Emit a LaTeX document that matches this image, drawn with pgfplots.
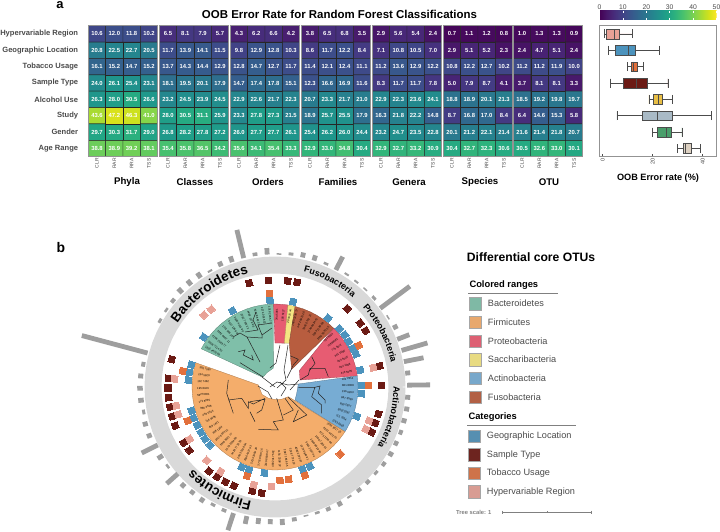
\documentclass[border=0pt]{standalone}
\usepackage{fontspec}
\setmainfont{Liberation Sans}
\usepackage{pgfplots}
\usepackage{pgfplotstable}
\pgfplotsset{compat=1.18}
\usepgfplotslibrary{polar,statistics}
\usetikzlibrary{decorations.text}
\pgfplotsset{/pgf/number format/assume math mode=true}

\definecolor{cGreen}{HTML}{7FBFA9}\definecolor{cOrange}{HTML}{F4AD6B}
\definecolor{cRed}{HTML}{E75C72}\definecolor{cYellow}{HTML}{F4E582}
\definecolor{cBlue}{HTML}{77ACD3}\definecolor{cBrown}{HTML}{B85D3F}
\definecolor{qBlue}{HTML}{4C93BD}\definecolor{qDark}{HTML}{6B1A14}
\definecolor{qOrange}{HTML}{E2703C}\definecolor{qPink}{HTML}{E8A196}
\definecolor{ringG}{HTML}{D9D9D9}\definecolor{barG}{HTML}{9E9E9E}
\definecolor{txtG}{HTML}{4A4A4A}
\definecolor{bYellow}{HTML}{E8BE45}\definecolor{bSlate}{HTML}{A9BAC6}
\definecolor{bGreen}{HTML}{4A9E6B}\definecolor{bBeige}{HTML}{DDD1C2}

% heat-map values: rows top to bottom, four columns each
\pgfplotstableread[row sep=\\]{z\\10.6\\12.0\\11.8\\10.2\\20.8\\22.5\\22.7\\20.5\\16.1\\15.2\\14.7\\15.2\\24.0\\26.1\\25.4\\23.1\\26.3\\28.0\\30.5\\26.6\\43.6\\47.2\\46.3\\41.0\\29.7\\30.3\\31.7\\29.0\\38.8\\38.9\\39.2\\38.1\\}\tPhyla
\pgfplotstableread[row sep=\\]{z\\6.5\\8.1\\7.9\\5.7\\11.7\\13.9\\14.1\\11.5\\13.7\\14.3\\14.4\\12.9\\18.1\\19.5\\20.1\\17.9\\23.2\\24.5\\23.9\\24.5\\28.0\\30.5\\31.1\\25.9\\26.8\\28.2\\27.8\\27.2\\35.4\\35.8\\36.5\\34.2\\}\tClasses
\pgfplotstableread[row sep=\\]{z\\4.3\\6.2\\6.6\\4.2\\9.8\\12.9\\12.8\\10.3\\12.8\\14.7\\12.7\\11.7\\14.7\\17.4\\17.8\\15.1\\22.9\\22.6\\21.7\\22.3\\23.3\\27.8\\27.3\\21.5\\26.0\\27.7\\27.7\\26.1\\35.6\\34.1\\35.4\\33.3\\}\tOrders
\pgfplotstableread[row sep=\\]{z\\3.8\\6.5\\6.8\\3.5\\8.6\\11.7\\12.2\\8.4\\11.4\\12.1\\12.4\\11.1\\12.3\\16.6\\16.9\\11.6\\20.7\\23.3\\21.7\\21.0\\18.9\\25.7\\25.5\\17.9\\25.4\\26.2\\26.0\\24.4\\32.9\\33.0\\34.8\\30.4\\}\tFamilies
\pgfplotstableread[row sep=\\]{z\\2.9\\5.6\\5.4\\2.4\\7.1\\10.8\\10.5\\7.0\\11.2\\13.6\\12.9\\12.2\\8.3\\11.7\\11.7\\7.8\\22.9\\22.3\\23.6\\24.1\\16.3\\21.8\\22.2\\14.8\\23.2\\24.7\\23.5\\22.8\\32.9\\32.7\\33.2\\30.9\\}\tGenera
\pgfplotstableread[row sep=\\]{z\\0.7\\1.1\\1.2\\0.8\\2.9\\5.1\\5.2\\2.3\\10.8\\12.2\\12.7\\10.2\\5.0\\7.9\\8.7\\4.1\\18.8\\18.9\\20.1\\21.3\\8.7\\16.8\\17.0\\8.4\\20.1\\21.2\\22.1\\21.4\\30.4\\32.7\\32.3\\30.6\\}\tSpecies
\pgfplotstableread[row sep=\\]{z\\1.0\\1.3\\1.3\\0.9\\2.4\\4.7\\5.1\\2.4\\11.2\\11.2\\11.9\\10.0\\3.7\\8.1\\8.1\\3.3\\18.5\\19.2\\19.8\\19.7\\6.4\\14.6\\15.3\\5.8\\21.6\\21.4\\21.8\\20.7\\30.5\\32.6\\33.0\\30.1\\}\tOTU

\pgfplotsset{
 heatax/.style={scale only axis,width=69.4bp,height=131bp,anchor=south west,
  xmin=-0.5,xmax=3.5,ymin=-0.5,ymax=7.5,y dir=reverse,axis on top,
  axis line style={draw=gray!85,line width=.9bp},
  xtick={0,1,2,3},xticklabels={CLR,RAR,RRA,TSS},
  xticklabel style={rotate=90,anchor=east,font=\fontsize{5}{5}\selectfont,text=txtG,inner sep=1.5bp},
  ytick=\empty,major tick length=0pt,colormap/viridis,point meta min=0,point meta max=50},
 box/.style 2 args={boxplot prepared={draw position=#1,#2}},
}
\newcommand{\heat}[3][]{%
 \begin{axis}[heatax,at={(#2bp,375.3bp)},#1]
  \addplot[matrix plot,mesh/cols=4,point meta=\thisrow{z},draw=black!85,line width=.45bp]
    table[x index=0,y index=0,x expr={mod(\coordindex,4)},y expr={floor((\coordindex+0.5)/4)}] {#3};
  \addplot[only marks,mark=none,point meta=\thisrow{z},
    nodes near coords={\pgfmathprintnumber[fixed,fixed zerofill,precision=1]{\pgfplotspointmeta}},
    nodes near coords style={anchor=center,text=white,inner sep=0pt,font=\bfseries\fontsize{5.9}{6}\selectfont}]
    table[x index=0,y index=0,x expr={mod(\coordindex,4)},y expr={floor((\coordindex+0.5)/4)}] {#3};
 \end{axis}}

% tangential orientation for marks read in picture pixels, tree centre at (275,387)
\pgfdeclareplotmark{radbar}{%
 \pgfmathsetmacro{\halfl}{\barlen/2}%
 \pgfpathrectangle{\pgfpoint{-\halfl bp}{-2.4bp}}{\pgfpoint{\barlen bp}{4.8bp}}\pgfusepathqfill}
\pgfplotsset{
 radial/.style={scatter,only marks,
  visualization depends on={value \thisrow{x}\as\vx},
  visualization depends on={value \thisrow{y}\as\vy},
  scatter/@pre marker code/.code={\pgfscope\pgfmathparse{atan2(387-\vy,\vx-275)}\pgftransformrotate{\pgfmathresult}},
  scatter/@post marker code/.code={\endpgfscope}},
 sq/.style={radial,mark=square*,mark size=3.1bp,draw=#1,fill=#1,line width=0pt},
}
\newcommand{\sw}[3]{\addplot[only marks,mark=square*,mark size=6.2bp,draw=gray!70,fill=#3,line width=.4bp] coordinates {(#1,#2)};}
\newcommand{\lab}[3]{\node[anchor=west,inner sep=0pt,text=txtG,font=\fontsize{9.2}{10}\selectfont] at (axis cs:#1,#2) {#3};}
\newcommand{\grp}[2]{\node[anchor=center,inner sep=0pt,font=\bfseries\fontsize{9.7}{10}\selectfont] at (axis cs:#1,182) {#2};}
\newcommand{\ringtext}[5]{\path[decorate,decoration={text along path,text align=center,
   text={|\bfseries\fontsize{#5}{#5}\selectfont|#1}}]
   ([shift={(#2:#4bp)}]axis cs:275,387) arc[start angle=#2,end angle=#3,radius=#4bp];}

\begin{document}
\begin{tikzpicture}[x=1bp,y=1bp]
\path[use as bounding box] (0,0) rectangle (720bp,532bp);

% ---------------- heat maps
\heat[ytick={0,1,2,3,4,5,6,7},
 yticklabels={Hypervariable Region,Geographic Location,Tobacco Usage,Sample Type,Alcohol Use,Study,Gender,Age Range},
 yticklabel style={font=\bfseries\fontsize{7.6}{8}\selectfont,text=txtG,xshift=-10bp,inner sep=0pt}]{88.3}{\tPhyla}
\heat{159.3}{\tClasses}
\heat{230.3}{\tOrders}
\heat{301.3}{\tFamilies}
\heat{372.3}{\tGenera}
\heat{443.3}{\tSpecies}
\heat{513.4}{\tOTU}

% ---------------- colour bar
\begin{axis}[hide axis,scale only axis,at={(599.5bp,512bp)},anchor=south west,width=117bp,height=9bp,
 xmin=0,xmax=1,ymin=0,ymax=1,colormap/viridis,colorbar horizontal,point meta min=0,point meta max=50,
 colorbar style={at={(0,0)},anchor=south west,width=117bp,height=9bp,scale only axis,
  xtick={0,10,20,30,40,50},xticklabel pos=upper,
  xticklabel style={font=\fontsize{6.8}{7}\selectfont,text=txtG,inner sep=1.5bp},
  tick style={white,line width=.5bp},major tick length=2bp,tick align=inside,axis line style={draw=none}}]
 \addplot[draw=none] coordinates {(0,0)};
\end{axis}

% ---------------- box plots
\begin{axis}[scale only axis,at={(599.3bp,375.3bp)},anchor=south west,width=117.4bp,height=131.7bp,
 xmin=-1.36,xmax=45.6,ymin=-0.55,ymax=7.5,y dir=reverse,
 axis line style={draw=gray!85,line width=.9bp},ytick=\empty,xtick={0,20,40},
 xtick pos=bottom,major tick length=2.5bp,tick style={black!70,line width=.5bp},
 xticklabel style={rotate=90,anchor=east,font=\fontsize{5.6}{6}\selectfont,text=txtG,inner sep=1.5bp},
 boxplot/draw direction=x,boxplot/box extend=0.6,boxplot/whisker extend=0.55,
 every axis plot/.append style={draw=black!70,line width=.6bp}]
 \addplot[fill=qPink,box={0}{lower whisker=0.8,lower quartile=1.5,median=4.8,upper quartile=6.7,upper whisker=12}] coordinates {};
 \addplot[fill=qBlue,box={1}{lower whisker=2.3,lower quartile=5.1,median=10.3,upper quartile=12.9,upper whisker=22.7}] coordinates {};
 \addplot[fill=qOrange,box={2}{lower whisker=9.9,lower quartile=11.3,median=12.3,upper quartile=13.9,upper whisker=16.3}] coordinates {};
 \addplot[fill=qDark,box={3}{lower whisker=3.2,lower quartile=8.1,median=13.5,upper quartile=18,upper whisker=26.1}] coordinates {};
 \addplot[fill=bYellow,box={4}{lower whisker=18.5,lower quartile=20.4,median=22.1,upper quartile=24,upper whisker=28}] coordinates {};
 \addplot[fill=bSlate,box={5}{lower whisker=5.7,lower quartile=15.9,median=22,upper quartile=28,upper whisker=43.6}] coordinates {};
 \addplot[fill=bGreen,box={6}{lower whisker=20,lower quartile=21.9,median=25.6,upper quartile=27.6,upper whisker=31.7}] coordinates {};
 \addplot[fill=bBeige,box={7}{lower whisker=30,lower quartile=32.4,median=32.9,upper quartile=35.6,upper whisker=39.2}] coordinates {};
\end{axis}

% ---------------- circular tree: ring, clade ranges, leaf names (angle in degrees, radius in px)
\begin{polaraxis}[hide axis,scale only axis,at={(275bp,145bp)},anchor=center,width=300bp,height=300bp,
 xmin=0,xmax=360,ymin=0,ymax=150,clip=false]
 \addplot[ringG,line width=17bp,line join=round] coordinates {(0,122)(5,122)(10,122)(15,122)(20,122)(25,122)(30,122)(35,122)(40,122)(45,122)(50,122)(55,122)(60,122)(65,122)(70,122)(75,122)(80,122)(85,122)(90,122)(95,122)(100,122)(105,122)(110,122)(115,122)(120,122)(125,122)(130,122)(135,122)(140,122)(145,122)(150,122)(155,122)(160,122)(165,122)(170,122)(175,122)(180,122)(185,122)(190,122)(195,122)(200,122)(205,122)(210,122)(215,122)(220,122)(225,122)(230,122)(235,122)(240,122)(245,122)(250,122)(255,122)(260,122)(265,122)(270,122)(275,122)(280,122)(285,122)(290,122)(295,122)(300,122)(305,122)(310,122)(315,122)(320,122)(325,122)(330,122)(335,122)(340,122)(345,122)(350,122)(355,122)(360,122)};
 % Bacteroidetes
 \addplot[fill=cGreen,draw=cGreen!70!black,line width=.3bp] coordinates {(91,83)(95,83)(100,83)(105,83)(110,83)(115,83)(120,83)(125,83)(130,83)(135,83)(140,83)(145,83)(150,83)(152.6,83)(141.7,15.7)(118,16.5)(95,19)(91,83)};
 % Proteobacteria (small)
 \addplot[fill=cRed,draw=cRed!70!black,line width=.3bp] coordinates {(81,83)(85,83)(91,83)(90,44)(77,45)(81,83)};
 % Saccharibacteria
 \addplot[fill=cYellow,draw=cYellow!70!black,line width=.3bp] coordinates {(76,83)(81,83)(78,45)(72,46)(76,83)};
 % Fusobacteria
 \addplot[fill=cBrown,draw=cBrown!70!black,line width=.3bp] coordinates {(45,83)(50,83)(55,83)(60,83)(65,83)(70,83)(76,83)(72,46)(46.7,24.3)(45,83)};
 % Proteobacteria
 \addplot[fill=cRed,draw=cRed!70!black,line width=.3bp] coordinates {(7.7,83)(10,83)(15,83)(20,83)(25,83)(30,83)(35,83)(40,83)(45,83)(33.9,29.3)(15.6,26)(7.7,83)};
 % Actinobacteria
 \addplot[fill=cBlue,draw=cBlue!70!black,line width=.3bp] coordinates {(-32.6,83)(-30,83)(-25,83)(-20,83)(-15,83)(-10,83)(-5,83)(0,83)(5,83)(7.7,83)(7.3,23.5)(-16.2,22.6)(-33,23.9)(-32.6,83)};
 % Firmicutes
 \addplot[fill=cOrange,draw=cOrange!70!black,line width=.3bp] coordinates {(163,83)(165,83)(170,83)(175,83)(180,83)(185,83)(190,83)(195,83)(200,83)(205,83)(210,83)(215,83)(220,83)(225,83)(230,83)(235,83)(240,83)(245,83)(250,83)(255,83)(260,83)(265,83)(270,83)(275,83)(280,83)(285,83)(290,83)(295,83)(300,83)(305,83)(310,83)(315,83)(320,83)(325,83)(327.4,83)(324,16.5)(300,14)(270,12.5)(240,13)(210,15)(173,16.8)(163,83)};
 % leaf names, right half
 \addplot[only marks,mark=none,point meta=explicit symbolic,
  visualization depends on={value \thisrow{a}\as\ang},
  nodes near coords,nodes near coords style={anchor=center,inner sep=0pt,rotate=\ang,font=\fontsize{2.8}{3}\selectfont}]
  table[x=a,y=r,meta=t] {
a r t
-30 73 5783~0863
-24.8 73 715~7064
-19.6 73 58321092
-14.4 73 890~2507
-9.2 73 867~5559
-4 73 156~0263
1.2 73 881~8008
6.4 73 102~2312
11.6 73 479~5095
16.8 73 824~2008
22 73 403~5525
27.2 73 301~5095
32.4 73 779~5072
37.6 73 72898061
42.8 73 702~8024
48 72 1082~3091~55
53.2 72 2204~1186~09
58.4 72 1730~6624~41
63.6 72 3391~0752~11
68.8 72 4472~8815~20
74 72 1605~2238~77
78.5 72 28~0916~44
83.6 72 190~6127
88.5 72 344~5081
273.65 72 1154~3308~22
278.8 72 2097~1846~55
283.95 72 3318~7722~10
289.1 72 4006~2195~87
294.25 72 1273~6640~91
299.4 72 5581~2037~44
304.55 72 2640~8819~30
309.7 72 1498~7263~01
314.85 72 3725~1150~66
320 72 6103~4472~25
325.15 72 2286~9017~55
};
 % leaf names, left half
 \addplot[only marks,mark=none,point meta=explicit symbolic,
  visualization depends on={value \thisrow{a}\as\ang},
  nodes near coords,nodes near coords style={anchor=center,inner sep=0pt,rotate=\ang,rotate=180,font=\fontsize{2.8}{3}\selectfont}]
  table[x=a,y=r,meta=t] {
a r t
94 72 1018~2265~77
99.2 72 2274~0916~33
104.4 72 3160~8842~10
109.6 72 4409~1273~66
114.8 72 1592~7706~22
120 72 2836~4415~90
125.2 72 5027~1368~44
130.4 72 1741~9052~63
135.6 72 3382~6607~11
140.8 72 4196~2583~77
146 72 2608~7114~33
150 72 1935~4420~88
165.5 72 396~7095
170.65 72 154~5920
175.8 72 102~7462
180.95 72 195~8426
186.1 72 58276001
191.25 72 172~8095
196.4 72 986~3328
201.55 72 439~5523
206.7 72 716~9095
211.85 72 449~7421
217 72 368~1204
222.15 72 2017~6653~11
227.3 72 3346~9021~77
232.45 72 1570~2284~60
237.6 72 4428~7710~33
242.75 72 2693~5518~04
247.9 72 1086~4427~93
253.05 72 5234~1069~28
258.2 72 3751~8046~16
263.35 72 2119~6638~47
268.5 72 4802~3175~92
};
\end{polaraxis}

% ---------------- everything read in picture pixels
\begin{axis}[hide axis,scale only axis,at={(0,0)},anchor=south west,width=720bp,height=532bp,
 xmin=0,xmax=720,ymin=0,ymax=532,y dir=reverse,clip=false]

 % tree branches
 \addplot[black!85,line width=.5bp,unbounded coords=jump] coordinates {
 (262.7,376.7)(240,362.7)(nan,nan)
 (238.3,351.7)(245,350)(243.3,355)(253.3,360)(251.7,355)(nan,nan)
 (260,362)(247,337)(240,333)(233,337)(nan,nan)
 (247,337)(262,338)(262,335)(272,328)(nan,nan)
 (262,335)(258,325)(272,323)(nan,nan)
 (245,332)(258,330)(253,320)(256,312)(nan,nan)
 (228.3,380)(226.7,393.3)(233.3,413.3)(nan,nan)
 (228.3,400)(241.7,398.3)(248.3,408.3)(248.3,401.7)(253.3,404)(265,398.3)(nan,nan)
 (250,411.7)(255,421.7)(nan,nan)
 (250,401.7)(265,399.3)(261.7,410)(256.7,413.3)(nan,nan)
 (258.3,429.3)(278.3,430)(nan,nan)
 (276.7,398.3)(283.3,420)(273.3,421.7)(278.3,430)(nan,nan)
 (285,398.3)(293.3,410)(283.3,415)(nan,nan)
 (288.3,397.3)(306.7,415)(293.3,421.7)(298.3,410)(nan,nan)
 (298.3,387.3)(315,387.3)(311.7,396.7)(321.7,405)(321.7,413.3)(nan,nan)
 (315,387.3)(320,386)(318.3,393.3)(325,400)(325,403.3)(nan,nan)
 (300,380)(308.3,375)(310,368.3)(325,368.3)(328.3,376.7)(nan,nan)
 (311.7,356.7)(315,363.3)(310,370)(nan,nan)
 (290.7,356)(298.3,359.3)(293.3,365)(291.7,368.3)(nan,nan)
 (280,345)(276,363)(270,368)(nan,nan)
 (288,345)(284,370)(286,380)(277,388)(nan,nan)
 (292,368)(287,378)(nan,nan)
 (299,380)(290,390)(nan,nan)
 (262,377)(275,387)(nan,nan)
 (270,387)(277,382)(288,385)(298,384)(nan,nan)
 (280,382)(286,388)(281,396)(nan,nan)
 (258,386)(268,392)(272,399)(nan,nan)
 };

 % outer bars: centre, radial length
 \addplot[radial,mark=radbar,draw=barG,fill=barG,visualization depends on={value \thisrow{l}\as\barlen}] table {
x y l
114.7 344.3 68
160 320.7 3
166.3 310 2.5
173 300.7 4
180.3 290.7 6
189.3 282.7 6
199 275.3 6
210 271 2
220.3 264 5
231.3 259.3 6
240.3 244 29
255 254.3 3.5
267 251.3 6.5
279 254 1.5
291 254 3
303 255 5
314.7 258 5.5
326 263.7 2.5
339.3 263.3 15
346.7 274.3 2
356.3 281.7 2
365.3 289.3 1.5
374 298 3
395 297.3 37
388 317.3 1.5
395.3 327 5
403.3 337 13
414.5 346.7 27
413.7 359.7 20
407.7 373 5
418.7 385 23
407.7 397.3 5
406.7 409 5
404 420.7 5
400.7 432.3 4
396 443.3 4.5
390.7 454 5
383.7 464 4
376 472.7 3
367.7 482 4
359 490 4
349.3 496.7 2
339.7 503.7 5
328.3 509 4
317.3 512.7 2.5
306 515.7 1.5
294.3 519.3 4
282.3 522 6
270.3 521.7 5
258.3 521 6
246 520 8
230.7 521.7 18
224 510.3 3.5
213 504.7 3
202 500 5
192.3 492.3 4.5
183 485.3 5
172.3 478.7 15
167.7 466.3 2.5
160.3 457 6
149.7 449 18
149.3 435.7 5
145.3 424 5
143.7 412 3
141 400.3 5.5
140 388.3 5.5
140.7 376 5
143.3 364.3 4
};

 % category squares
 \addplot[sq=qBlue] table {
x y
203.7 337
232.5 310.7
270 300.3
293 301.7
328 318
339.3 328.7
344.7 334.7
348.7 341.3
352.7 348.3
356 354
360.3 370
362 385.7
361.3 393.7
356.7 416.3
310 466.3
302.7 469.3
264.3 473
241.7 467
249 469.7
191.3 364.7
189.3 372.3
188.3 380
191.7 410.7
193.7 418
197.3 425.3
201 432.3
205 438.7
210 445
};
 \addplot[sq=qDark] table {
x y
249.3 283
268.7 280.3
287.7 281
297 282.3
347.3 308.7
360.3 323
365.7 330.7
379.7 366
381.7 385.3
378.3 414
375.3 423
371.7 432
234 485.7
252.3 491
261.7 493
171.7 359.3
168.7 378.3
168 388
168.7 397.7
170 407
172.3 416.3
175.3 425.7
183.7 442.7
189.3 450.3
209 471
217 476.7
225.3 481.7
};
 \addplot[sq=qOrange] table {
x y
269.7 293.3
358.7 345.3
368.7 385.7
340.3 454
305 475.3
247 476
280 480.3
288.7 479.3
182.7 371
187.7 420.7
};
 \addplot[sq=qPink] table {
x y
204 315
211.3 309.3
373.3 367.7
369 420.7
365.7 429
271.3 486.7
253.7 484.7
174.7 379
176.3 405.7
178.3 414.3
189.7 439
206.7 460.3
220.7 471.3
};

 % ring names
 \ringtext{Bacteroidetes}{147}{103}{116.5}{13.5}
 \ringtext{Firmicutes}{258.5}{225}{116.5}{13.5}
 \ringtext{Fusobacteria}{77}{48}{118.5}{9}
 \ringtext{Proteobacteria}{43}{11}{118.5}{9}
 \ringtext{Actinobacteria}{0.5}{-30}{118.5}{9}

 % headings
 \node[font=\bfseries\fontsize{13}{13}\selectfont,inner sep=0pt] at (axis cs:60,5.5) {a};
 \node[font=\bfseries\fontsize{14}{14}\selectfont,inner sep=0pt] at (axis cs:61,248) {b};
 \node[font=\bfseries\fontsize{11.5}{12}\selectfont,inner sep=0pt] at (axis cs:339.5,14) {OOB Error Rate for Random Forest Classifications};
 \node[font=\bfseries\fontsize{9.2}{10}\selectfont,inner sep=0pt] at (axis cs:658,178) {OOB Error rate (\%)};
 \grp{127}{Phyla}\grp{195}{Classes}\grp{268}{Orders}\grp{338}{Families}\grp{409}{Genera}\grp{480}{Species}\grp{549}{OTU}

 % legend
 \node[anchor=west,font=\bfseries\fontsize{12.2}{13}\selectfont,inner sep=0pt] at (axis cs:466.7,257) {Differential core OTUs};
 \node[anchor=west,font=\bfseries\fontsize{9.4}{10}\selectfont,inner sep=0pt] at (axis cs:469.3,284.7) {Colored ranges};
 \addplot[gray,line width=.6bp] coordinates {(468,293.3)(558,293.3)};
 \sw{475.3}{303.7}{cGreen!90!gray}\lab{487.7}{303.7}{Bacteroidetes}
 \sw{475.3}{322.3}{cOrange!90!gray}\lab{487.7}{322.3}{Firmicutes}
 \sw{475.3}{341}{cRed!90!gray}\lab{487.7}{341}{Proteobacteria}
 \sw{475.3}{359.7}{cYellow!90!gray}\lab{487.7}{359.7}{Saccharibacteria}
 \sw{475.3}{378.3}{cBlue!90!gray}\lab{487.7}{378.3}{Actinobacteria}
 \sw{475.3}{397}{cBrown!90!gray}\lab{487.7}{397}{Fusobacteria}
 \node[anchor=west,font=\bfseries\fontsize{9.4}{10}\selectfont,inner sep=0pt] at (axis cs:468.3,417.3) {Categories};
 \addplot[gray,line width=.6bp] coordinates {(467,425.3)(576,425.3)};
 \sw{474.2}{436}{qBlue!80!gray}\lab{486.7}{436}{Geographic Location}
 \sw{474.2}{454.7}{qDark!90!gray}\lab{486.7}{454.7}{Sample Type}
 \sw{474.2}{473.3}{qOrange!80!gray}\lab{486.7}{473.3}{Tobacco Usage}
 \sw{474.2}{491.7}{qPink!85!gray}\lab{486.7}{491.7}{Hypervariable Region}
 \node[anchor=west,font=\bfseries\fontsize{5.8}{6}\selectfont,text=gray,inner sep=0pt] at (axis cs:456,512) {Tree scale: 1};
 \addplot[gray,line width=.5bp,unbounded coords=jump] coordinates {(502.3,512)(591.7,512)(nan,nan)(502.3,510.5)(502.3,513.5)(nan,nan)(547,511)(547,513)(nan,nan)(591.7,510.5)(591.7,513.5)};
\end{axis}
\end{tikzpicture}
\end{document}
